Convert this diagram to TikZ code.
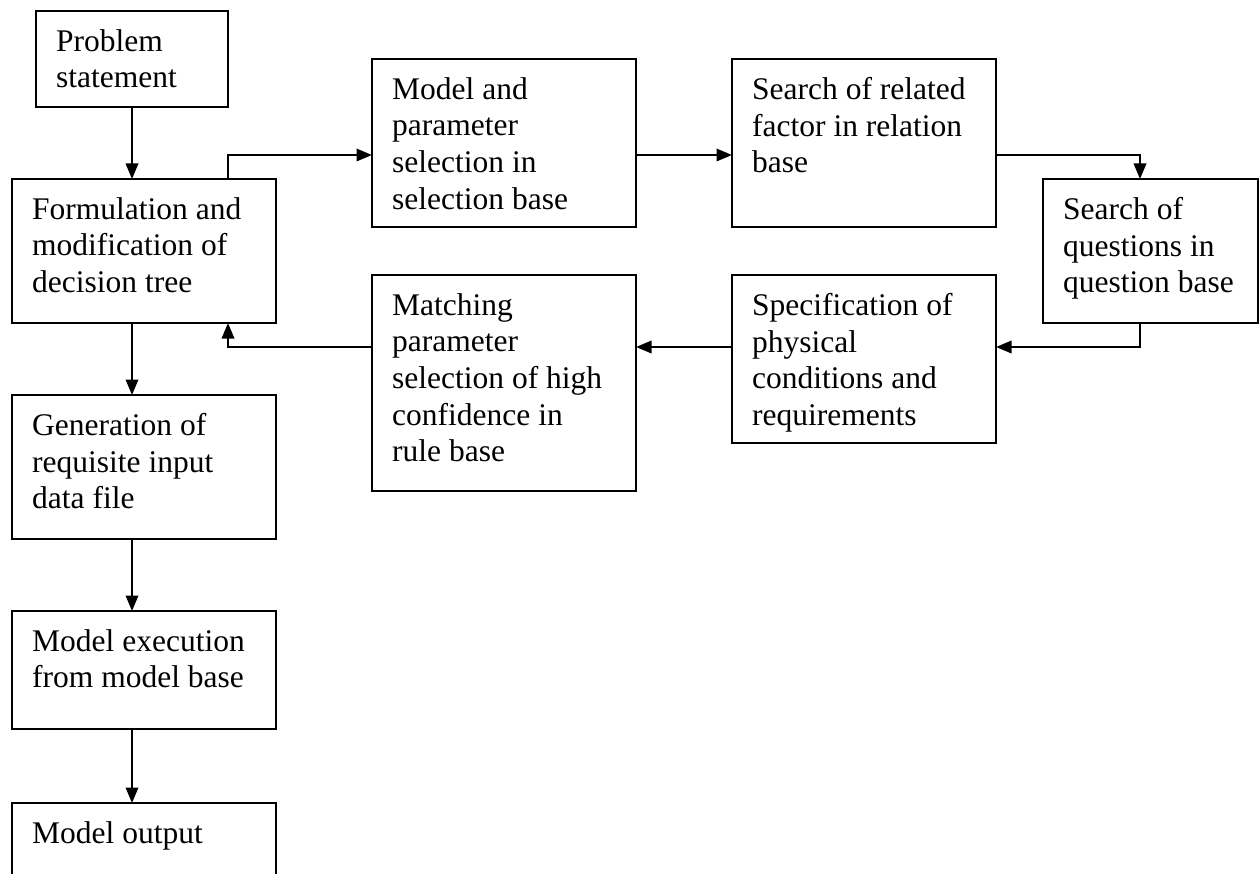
\documentclass[tikz,border=0pt]{standalone}
\usepackage{fontspec}
\setmainfont{Liberation Serif}
\usetikzlibrary{arrows.meta}

\begin{document}
\begin{tikzpicture}[x=1pt, y=-1pt,
  box/.style={draw, line width=1.8pt, rectangle, inner sep=0pt, outer sep=0pt},
  txt/.style={anchor=north west, align=left, inner sep=0pt,
              font=\fontsize{31.5}{36.7}\selectfont},
  arr/.style={line width=1.8pt, -{Triangle[length=15.5pt,width=12.5pt]}},
  ln/.style={line width=1.8pt}]

\useasboundingbox (0,0) rectangle (1260,874);
\clip (0,0) rectangle (1260,874);

% boxes: left column
\node[box, minimum width=192pt, minimum height=96pt]  (P) at (132,59)  {};
\node[box, minimum width=264pt, minimum height=144pt] (F) at (144,251) {};
\node[box, minimum width=264pt, minimum height=144pt] (G) at (144,467) {};
\node[box, minimum width=264pt, minimum height=118pt] (E) at (144,670) {};
\node[box, minimum width=264pt, minimum height=144pt] (O) at (144,875) {};
% boxes: loop on the right
\node[box, minimum width=264pt, minimum height=168pt] (M) at (504,143) {};
\node[box, minimum width=264pt, minimum height=168pt] (S) at (864,143) {};
\node[box, minimum width=215pt, minimum height=144pt] (Q) at (1150.5,251) {};
\node[box, minimum width=264pt, minimum height=168pt] (C) at (864,359) {};
\node[box, minimum width=264pt, minimum height=216pt] (R) at (504,383) {};

% box texts
\node[txt] (Pt) at ([shift={(20pt,-18pt)}]P.north west) {Problem\\statement};
\node[txt] (Ft) at ([shift={(20pt,-18pt)}]F.north west) {Formulation and\\modification of\\decision tree};
\node[txt] (Gt) at ([shift={(20pt,-18pt)}]G.north west) {Generation of\\requisite input\\data file};
\node[txt] (Et) at ([shift={(20pt,-18pt)}]E.north west) {Model execution\\from model base};
\node[txt] (Ot) at ([shift={(20pt,-18pt)}]O.north west) {Model output};
\node[txt] (Mt) at ([shift={(20pt,-18pt)}]M.north west) {Model and\\parameter\\selection in\\selection base};
\node[txt] (St) at ([shift={(20pt,-18pt)}]S.north west) {Search of related\\factor in relation\\base};
\node[txt] (Qt) at ([shift={(20pt,-18pt)}]Q.north west) {Search of\\questions in\\question base};
\node[txt] (Ct) at ([shift={(20pt,-18pt)}]C.north west) {Specification of\\physical\\conditions and\\requirements};
\node[txt] (Rt) at ([shift={(20pt,-18pt)}]R.north west) {Matching\\parameter\\selection of high\\confidence in\\rule base};

% connector points
\coordinate (mIn)  at ([yshift=-12pt]M.west);
\coordinate (mOut) at ([yshift=-12pt]M.east);
\coordinate (sIn)  at ([yshift=-12pt]S.west);
\coordinate (sOut) at ([yshift=-12pt]S.east);
\coordinate (qIn)  at ([xshift=-10.5pt]Q.north);
\coordinate (qOut) at ([xshift=-10.5pt]Q.south);
\coordinate (cIn)  at ([yshift=12pt]C.east);
\coordinate (cOut) at ([yshift=12pt]C.west);
\coordinate (fUp)  at ([xshift=84pt]F.north);
\coordinate (fBack) at ([xshift=84pt]F.south);

% main column
\draw[arr] (P.south) -- (P.south |- F.north);
\draw[arr] ([xshift=-12pt]F.south) -- ([xshift=-12pt]G.north);
\draw[arr] ([xshift=-12pt]G.south) -- ([xshift=-12pt]E.north);
\draw[arr] ([xshift=-12pt]E.south) -- ([xshift=-12pt]O.north);

% selection loop
\draw[arr] (fUp) |- (mIn);
\draw[arr] (mOut) -- (sIn);
\draw[arr] (sOut) -| (qIn);
\draw[arr] (qOut) |- (cIn);
\draw[arr] (cOut) -- (cOut -| R.east);
\draw[arr] (cOut -| R.west) -| (fBack);

\end{tikzpicture}
\end{document}
